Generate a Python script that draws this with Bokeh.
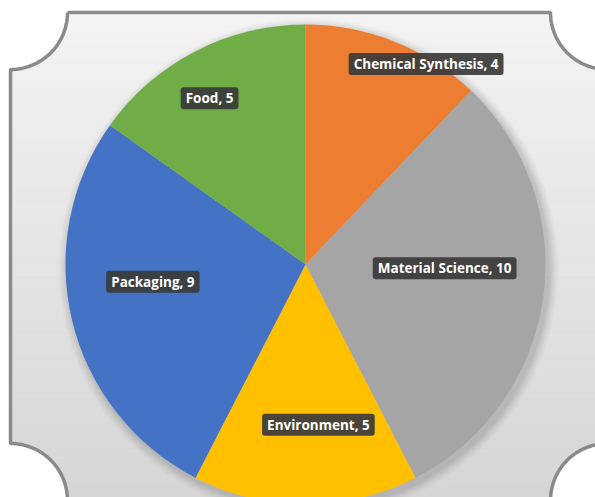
import numpy as np
from bokeh.plotting import figure
from bokeh.models import Range1d, ColumnDataSource
from bokeh.core.properties import value
from bokeh.embed import file_html
from bokeh.resources import INLINE

# ---- data ----
categories = ["Chemical Synthesis", "Material Science", "Environment", "Packaging", "Food"]
counts = [4, 10, 5, 9, 5]
colors = ["#ED7D31", "#A5A5A5", "#FFC000", "#4472C4", "#70AD47"]

# ---- label layout (style: radial fraction and angular nudge, degrees) ----
label_frac = [0.975, 0.58, 0.67, 0.64, 0.80]
label_shift = [9.2, -6.6, -4.6, 7.2, -2.7]

W, H = 595, 497
p = figure(width=W, height=H, output_backend="svg", toolbar_location=None,
           x_range=Range1d(0, W), y_range=Range1d(0, H), min_border=0,
           background_fill_color="white", border_fill_color="white")
p.axis.visible = False
p.grid.visible = False
p.outline_line_color = None

def Y(py):
    return H - py

# ---- background panel with gradient ----
L, R, T, B, rc = 10, 607, Y(12), Y(500), 57
n = 80
edges = np.linspace(B, T, n + 1)
c_top = np.array([0xF4, 0xF4, 0xF4]); c_bot = np.array([0xD6, 0xD6, 0xD6])
band_cols = []
for i in range(n):
    t = (edges[i] + edges[i + 1]) / 2
    f = (t - B) / (T - B)
    c = (c_bot + (c_top - c_bot) * f).astype(int)
    band_cols.append("#%02x%02x%02x" % tuple(c))
p.quad(left=L, right=R, bottom=edges[:-1], top=edges[1:] + 0.5, fill_color=band_cols, line_color=None)

# white concave corners
for cx, cy in [(L, T), (R, T), (R, B), (L, B)]:
    p.circle(x=cx, y=cy, radius=rc, fill_color="white", line_color=None)

# frame outline
def arc(cx, cy, a0, a1, k=30):
    a = np.radians(np.linspace(a0, a1, k))
    return list(cx + rc * np.cos(a)), list(cy + rc * np.sin(a))

xs, ys = [], []
def add(px, py):
    xs.extend(px); ys.extend(py)
add([L + rc, R - rc], [T, T])
add(*arc(R, T, 180, 270))
add([R, R], [T - rc, B + rc])
add(*arc(R, B, 90, 180))
add([R - rc, L + rc], [B, B])
add(*arc(L, B, 0, 90))
add([L, L], [B + rc, T - rc])
add(*arc(L, T, 270, 360))
p.line(xs, ys, line_color="#8a8a8a", line_width=3.5)

# ---- pie ----
cx, cy, r = 305, Y(264), 240
vals = np.array(counts, dtype=float)
fr = vals / vals.sum()
cum_end = np.cumsum(fr) * 2 * np.pi
cum_start = cum_end - fr * 2 * np.pi
start = np.pi / 2 - cum_end
end = np.pi / 2 - cum_start

# soft shadow
for k, a in zip(range(10, 0, -1), np.linspace(0.02, 0.05, 10)):
    p.circle(x=cx + 3, y=cy - 4, radius=r + k, fill_color="#707070", fill_alpha=a, line_color=None)

src = ColumnDataSource(dict(start=start, end=end, color=colors, cat=categories, cnt=counts))
p.wedge(x=cx, y=cy, radius=r, start_angle="start", end_angle="end", direction="anticlock",
        fill_color="color", line_color=None, source=src)

# ---- labels ----
mid = (cum_start + cum_end) / 2
ang = mid + np.radians(label_shift)
lx = cx + np.array(label_frac) * r * np.sin(ang)
ly = cy + np.array(label_frac) * r * np.cos(ang)
labels = [f"{c}, {v}" for c, v in zip(categories, counts)]
p.text(x=lx, y=ly, text=labels, text_align="center", text_baseline="middle",
       text_color="white", text_font=value("Open Sans"), text_font_style="bold",
       text_font_size="13.5px", background_fill_color="#3a3a3a", background_fill_alpha=0.92,
       padding=(5, 2), border_radius=3)

open("out.html", "w").write(file_html(p, INLINE))
